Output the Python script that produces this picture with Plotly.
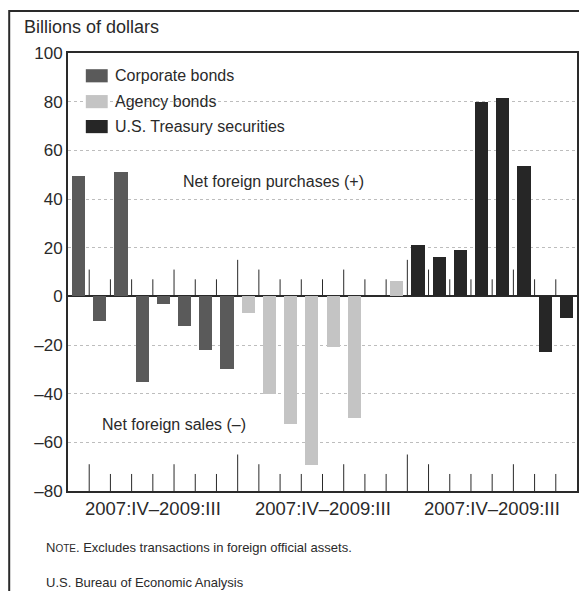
import plotly.graph_objects as go

# quarters shown in each group, 2007:IV to 2009:III
quarters = ["2007:IV", "2008:I", "2008:II", "2008:III", "2008:IV", "2009:I", "2009:II", "2009:III"]
group_label = "2007:IV\u20132009:III"

# net foreign purchases, billions of dollars
corporate = [49.5, -10, 51, -35, -3.3, -12, -22, -30]
agency = [-7, -40, -52.5, -69.5, -21, -50, 0, 6.5]
treasury = [21, 16, 19, 80, 81.5, 53.5, -23, -9]

series_names = ["Corporate bonds", "Agency bonds", "U.S. Treasury securities"]
series_values = [corporate, agency, treasury]
series_colors = ["#5a5a5a", "#c4c4c4", "#262626"]

y_ticks = [100, 80, 60, 40, 20, 0, -20, -40, -60, -80]
y_ticktext = ["100", "80", "60", "40", "20", "0", "\u201320", "\u201340", "\u201360", "\u201380"]

FONT = "Liberation Sans, Arial, sans-serif"
INK = "#2a2a2a"

n = len(quarters)
fig = go.Figure()

for g, (name, vals, col) in enumerate(zip(series_names, series_values, series_colors)):
    fig.add_trace(go.Bar(
        x=[g * n + i for i in range(n)],
        y=vals,
        name=name,
        marker=dict(color=col, line=dict(width=0)),
        width=0.62,
        showlegend=False))

#small vertical ticks between the bars, on the zero line and on the bottom axis
tx, ty = [], []
total = n * len(series_values)
for b in range(1, total):
    if b % n == 0:
        h = 15
    else:
        prev_year = quarters[(b - 1) % n][:4]
        this_year = quarters[b % n][:4]
        h = 11 if prev_year != this_year else 7
    xb = b - 0.5
    tx += [xb, xb, None, xb, xb, None]
    ty += [-80, -80 + h, None, 0, h, None]

fig.add_trace(go.Scatter(x=tx, y=ty, mode="lines", line=dict(color=INK, width=1),
                         hoverinfo="skip", showlegend=False))

#hand made legend with wide swatches
shapes = []
annotations = []
leg_y = [0.948, 0.889, 0.832]
for name, col, yy in zip(series_names, series_colors, leg_y):
    shapes.append(dict(type="rect", xref="paper", yref="paper",
                       x0=0.035, x1=0.078, y0=yy - 0.015, y1=yy + 0.015,
                       fillcolor=col, line=dict(width=0)))
    annotations.append(dict(text=name, xref="paper", yref="paper", x=0.088, y=yy,
                            xanchor="left", yanchor="middle", showarrow=False,
                            font=dict(size=16, color=INK)))

# outer frame of the figure
shapes.append(dict(type="rect", xref="paper", yref="paper",
                   x0=-0.1155, x1=1.05, y0=-0.3, y1=1.096,
                   line=dict(color=INK, width=2), fillcolor="rgba(0,0,0,0)"))

for g in range(len(series_values)):
    annotations.append(dict(text=group_label, xref="x", yref="paper",
                            x=g * n + (n - 1) / 2, y=-0.039,
                            xanchor="center", yanchor="middle", showarrow=False,
                            font=dict(size=18.5, color=INK)))

annotations += [
    dict(text="Billions of dollars", xref="paper", yref="paper", x=-0.09, y=1.059,
         xanchor="left", yanchor="middle", showarrow=False, font=dict(size=18, color=INK)),
    dict(text="Net foreign purchases (+)", xref="paper", yref="paper", x=0.404, y=0.707,
         xanchor="center", yanchor="middle", showarrow=False, font=dict(size=16, color=INK)),
    dict(text="Net foreign sales (\u2013)", xref="paper", yref="paper", x=0.209, y=0.151,
         xanchor="center", yanchor="middle", showarrow=False, font=dict(size=16, color=INK)),
    dict(text="N<span style='font-size:10px'>OTE</span>. Excludes transactions in foreign official assets.",
         xref="paper", yref="paper", x=-0.047, y=-0.128,
         xanchor="left", yanchor="middle", showarrow=False, font=dict(size=13, color=INK)),
    dict(text="U.S. Bureau of Economic Analysis", xref="paper", yref="paper", x=-0.047, y=-0.21,
         xanchor="left", yanchor="middle", showarrow=False, font=dict(size=13, color=INK)),
]

# page body has an 8px margin, so the figure is 8px smaller than the window
fig.update_layout(
    width=579, height=583,
    margin=dict(l=60, r=8, t=45, b=100),
    paper_bgcolor="white", plot_bgcolor="white",
    font=dict(family=FONT, color=INK),
    bargap=0,
    xaxis=dict(range=[-0.5, total - 0.5], showticklabels=False, ticks="",
               showgrid=False, zeroline=False,
               showline=True, mirror=True, linecolor=INK, linewidth=2),
    yaxis=dict(range=[-80, 100], tickvals=y_ticks, ticktext=y_ticktext,
               tickfont=dict(size=17, color=INK), ticks="", ticklen=0,
               showgrid=True, gridcolor="#bdbdbd", griddash="dot", gridwidth=1,
               zeroline=True, zerolinecolor=INK, zerolinewidth=2,
               showline=True, mirror=True, linecolor=INK, linewidth=2),
    shapes=shapes,
    annotations=annotations,
)

fig.write_html("out.html")
